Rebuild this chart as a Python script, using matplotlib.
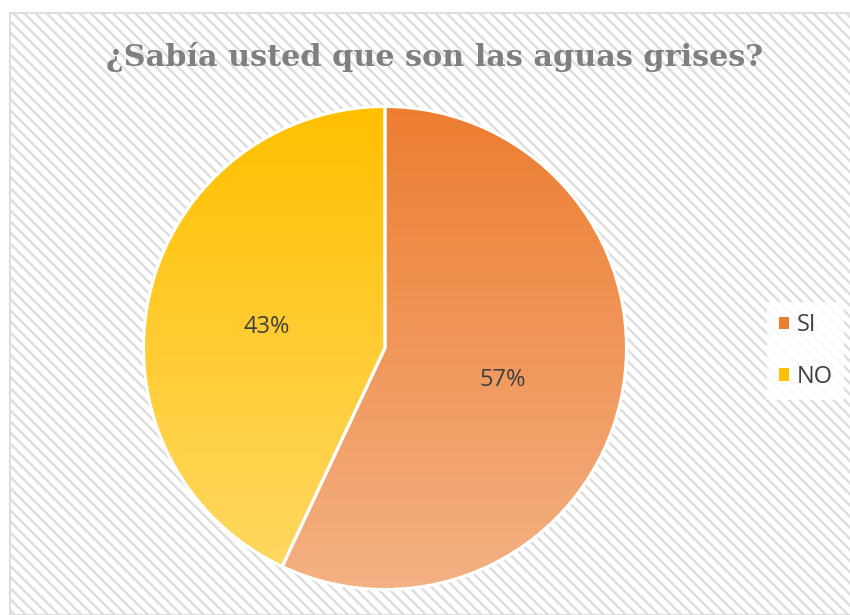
import matplotlib

matplotlib.use("Agg")
import matplotlib.pyplot as plt  # noqa: E402
import numpy as np  # noqa: E402
from matplotlib.colors import LinearSegmentedColormap  # noqa: E402
from matplotlib.patches import Patch, Rectangle  # noqa: E402

title = "¿Sabía usted que son las aguas grises?"
labels = ["SI", "NO"]
values = [57, 43]
top_colors = ["#ED7D31", "#FFC000"]
bottom_colors = ["#F4B183", "#FFD966"]

W, H = 850, 615
fig = plt.figure(figsize=(W / 100, H / 100), dpi=100)
fig.patch.set_facecolor("white")

# hatched chart-area background
plt.rcParams["hatch.linewidth"] = 1.8
bg = Rectangle((10 / W, 0), 1, 1 - 13 / H, transform=fig.transFigure,
               facecolor="white", edgecolor="#DEDEDE", hatch="\\\\\\", linewidth=1.5,
               zorder=-5)
fig.patches.append(bg)

# pie axes: center (385, 348) px, radius ~241 px
cx, cy, R, half = 385, 348, 241.5, 255
ax = fig.add_axes([(cx - half) / W, (H - cy - half) / H, 2 * half / W, 2 * half / H])
ax.patch.set_visible(False)

wedges, _ = ax.pie(values, startangle=90, counterclock=False, radius=1,
                   colors=["none", "none"], wedgeprops=dict(edgecolor="none"))
grad = np.linspace(0, 1, 256).reshape(-1, 1)
for w, c_top, c_bot in zip(wedges, top_colors, bottom_colors):
    cmap = LinearSegmentedColormap.from_list("g", [c_top, c_bot])
    im = ax.imshow(grad, cmap=cmap, extent=[-1, 1, -1, 1], origin="upper",
                   aspect="auto", zorder=1)
    im.set_clip_path(w)
    w.set_edgecolor("white")
    w.set_linewidth(2.2)
    w.set_zorder(2)
lim = half / R
ax.set_xlim(-lim, lim)
ax.set_ylim(-lim, lim)
ax.set_aspect("equal")
ax.axis("off")

# percentage labels
for w, v in zip(wedges, values):
    ang = np.deg2rad((w.theta1 + w.theta2) / 2)
    ax.annotate(f"{v}%", (0.5 * np.cos(ang), 0.5 * np.sin(ang)), xytext=(0, -4),
                textcoords="offset points", ha="center", va="center",
                fontsize=17, color="#404040", family="Open Sans", zorder=3)

fig.text(435 / W, 1 - 57 / H, title, ha="center", va="center", fontsize=21.8,
         fontweight="bold", color="#7F7F7F", family="DejaVu Serif")

handles = [Patch(facecolor=c, edgecolor="none") for c in top_colors]
leg = fig.legend(handles, labels, loc="center left", bbox_to_anchor=(755 / W, 1 - 351 / H),
                 frameon=True, fancybox=False, edgecolor="none", facecolor="white",
                 framealpha=0.85, prop={"family": "Open Sans", "size": 17},
                 handlelength=0.45, handleheight=0.45, labelspacing=1.15, handletextpad=0.3,
                 borderpad=0.5, labelcolor="#404040")

fig.savefig("out.png", dpi=100)
